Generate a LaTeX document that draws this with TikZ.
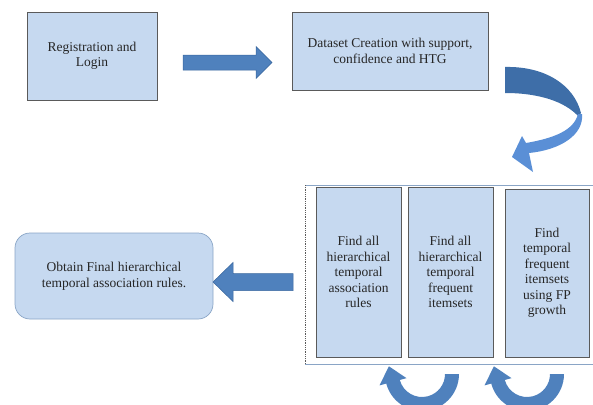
\documentclass[tikz,border=0pt]{standalone}
\usepackage{fontspec}
\setmainfont{Liberation Serif}
\usetikzlibrary{calc}
\definecolor{boxfill}{HTML}{C6D9F0}
\definecolor{boxline}{HTML}{5A5A5A}
\definecolor{frameline}{HTML}{8AA5C6}
\definecolor{arrowfill}{HTML}{4F81BD}
\definecolor{arrowline}{HTML}{3A679E}
\definecolor{curvetop}{HTML}{3E6EA8}
\definecolor{curvelow}{HTML}{5A8FD6}
\tikzstyle{every node}=[font=\fontsize{13.5}{15.5}\selectfont, text=black!85]
\tikzstyle{stepbox}=[draw=boxline, fill=boxfill, line width=0.7pt, align=center, inner sep=0pt]
\tikzstyle{blockarrow}=[fill=arrowfill, draw=arrowline, line width=0.5pt]

\begin{document}
\begin{tikzpicture}[x=1pt, y=-1pt]
  \useasboundingbox (0,0) rectangle (593,404);
  % top row
  \node[stepbox, minimum width=130, minimum height=88] (reg) at (92,56) {Registration and\\Login};
  \node[stepbox, minimum width=196, minimum height=78] (data) at (390,51) {Dataset Creation with support,\\confidence and HTG};
  % frame round the mining steps
  \coordinate (ftl) at (305,185);
  \coordinate (fbl) at (305,364);
  \draw[frameline, line width=0.8pt] (593,185) -- (ftl);
  \draw[frameline, line width=0.8pt] (593,364) -- (fbl);
  \draw[boxline, densely dotted, line width=0.8pt] (ftl) -- (fbl);
  \node[stepbox, minimum width=85, minimum height=170] (rules) at (358.5,272) {Find all\\hierarchical\\temporal\\association\\rules};
  \node[stepbox, minimum width=85, minimum height=170] (freq) at (450.5,272) {Find all\\hierarchical\\temporal\\frequent\\itemsets};
  \node[stepbox, minimum width=84, minimum height=168] (fp) at (547,273) {Find\\temporal\\frequent\\itemsets\\using FP\\growth};
  % result
  \node[stepbox, draw=frameline, rounded corners=15, minimum width=198, minimum height=86] (final) at (114,276) {Obtain Final hierarchical\\temporal association rules.};
  % straight arrows
  \coordinate (a1s) at (183,62.5);
  \coordinate (a1e) at (272,62.5);
  \draw[blockarrow] ($(a1s)+(0,-7.5)$) -- ($(a1e)+(-16,-7.5)$) -- ($(a1e)+(-16,-16)$) -- (a1e)
    -- ($(a1e)+(-16,16)$) -- ($(a1e)+(-16,7.5)$) -- ($(a1s)+(0,7.5)$) -- cycle;
  \coordinate (a2s) at (293,282);
  \coordinate (a2e) at (213,282);
  \draw[blockarrow] ($(a2s)+(0,-8.5)$) -- ($(a2e)+(20,-8.5)$) -- ($(a2e)+(20,-19.5)$) -- (a2e)
    -- ($(a2e)+(20,19.5)$) -- ($(a2e)+(20,8.5)$) -- ($(a2s)+(0,8.5)$) -- cycle;
  % curved arrow from data set to the mining steps
  \fill[curvetop] (505,67) .. controls (545,66) and (574,85) .. (581,113)
    -- (578,116) .. controls (565,102) and (540,93) .. (505,93) -- cycle;
  \fill[curvelow] (578,114) .. controls (574,130) and (555,138) .. (526,143)
    -- (522,136) -- (512,157) -- (533,172) -- (529,153)
    .. controls (560,150) and (584,135) .. (582,114) -- cycle;
  % turning arrows under the steps
  \foreach \cx in {422,527} {
    \coordinate (turn) at (\cx,374);
    \fill[arrowfill] ($(turn)+(0:23)$) -- ($(turn)+(0:37)$) arc[start angle=0, end angle=165, radius=37]
      -- ($(turn)+(165:44)$) -- ($(turn)+(165:30)+(255:16)$) -- ($(turn)+(165:16)$)
      -- ($(turn)+(165:23)$) arc[start angle=165, end angle=0, radius=23] -- cycle;
  }
\end{tikzpicture}
\end{document}
